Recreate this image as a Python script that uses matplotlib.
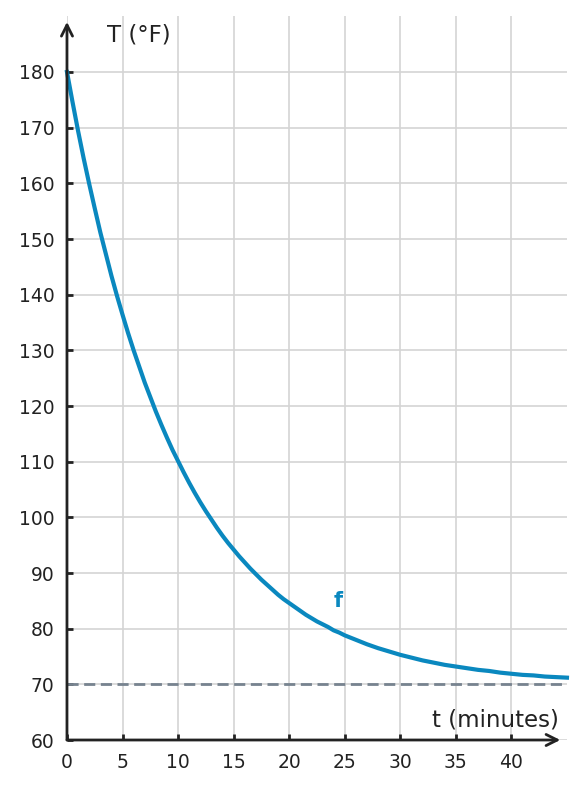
import matplotlib
matplotlib.use("Agg")
import matplotlib.pyplot as plt

# Data
t_minutes = [0, 0.5, 1, 1.5, 2, 2.5, 3, 3.5, 4, 4.5, 5, 5.5, 6, 6.5, 7, 7.5,
             8, 8.5, 9, 9.5, 10, 10.5, 11, 11.5, 12, 12.5, 13, 13.5, 14, 14.5,
             15, 15.5, 16, 16.5, 17, 17.5, 18, 18.5, 19, 19.5, 20, 20.5, 21,
             21.5, 22, 22.5, 23, 23.5, 24, 24.5, 25, 26, 27, 28, 29, 30, 31,
             32, 33, 34, 35, 36, 37, 38, 39, 40, 41, 42, 43, 44, 45]
temp_f = [180.0, 174.6, 169.4, 164.5, 159.9, 155.5, 151.2, 147.3, 143.4, 139.8,
          136.4, 133.1, 130.0, 127.1, 124.2, 121.6, 119.0, 116.6, 114.3, 112.1,
          110.1, 108.1, 106.2, 104.4, 102.7, 101.1, 99.6, 98.1, 96.7, 95.4,
          94.2, 93.0, 91.9, 90.8, 89.8, 88.8, 87.9, 87.0, 86.1, 85.3,
          84.6, 83.9, 83.2, 82.5, 81.9, 81.3, 80.8, 80.3, 79.7, 79.3,
          78.8, 78.0, 77.2, 76.5, 75.9, 75.3, 74.8, 74.3, 73.9, 73.5,
          73.2, 72.9, 72.6, 72.4, 72.1, 71.9, 71.7, 71.6, 71.4, 71.3, 71.2]
asymptote = 70
x_ticks = [0, 5, 10, 15, 20, 25, 30, 35, 40]
y_ticks = [60, 70, 80, 90, 100, 110, 120, 130, 140, 150, 160, 170, 180]
x_label = "t (minutes)"
y_label = "T (°F)"
curve_label = "f"

BLUE = "#0a88bf"
AXC = "#222222"

fig = plt.figure(figsize=(5.86, 7.89), dpi=100)
ax = fig.add_axes([0.1143, 0.0621, 0.8532, 0.9172])
ax.set_xlim(0, 45)
ax.set_ylim(60, 190)

for s in ax.spines.values():
    s.set_visible(False)

ax.set_xticks(x_ticks)
ax.set_yticks(y_ticks)
ax.grid(True, color="#d4d4d4", lw=1.2, zorder=0)
ax.tick_params(axis="both", direction="in", length=4, width=2, color=AXC,
               labelsize=13.5, labelcolor=AXC)
ax.tick_params(axis="x", pad=9)
ax.tick_params(axis="y", pad=9)

ax.axhline(asymptote, color="#77838f", lw=2, ls=(0, (4, 2)), zorder=2)
ax.plot(t_minutes, temp_f, color=BLUE, lw=3, zorder=3, clip_on=False,
        solid_joinstyle="round")

# axis lines with arrows
ax.annotate("", xy=(44.4, 60), xytext=(0, 60),
            arrowprops=dict(arrowstyle="->", lw=2, color=AXC, mutation_scale=20,
                            shrinkA=0, shrinkB=0), annotation_clip=False, zorder=4)
ax.annotate("", xy=(0, 189), xytext=(0, 60),
            arrowprops=dict(arrowstyle="->", lw=2, color=AXC, mutation_scale=20,
                            shrinkA=0, shrinkB=0), annotation_clip=False, zorder=4)

ax.text(3.6, 186.6, y_label, fontsize=16.5, color=AXC, ha="left", va="center")
ax.text(44.3, 63.6, x_label, fontsize=16.5, color=AXC, ha="right", va="center")
ax.text(24.4, 85.0, curve_label, fontsize=15, color=BLUE, fontweight="bold",
        ha="center", va="center")

fig.savefig("out.png", dpi=100)
